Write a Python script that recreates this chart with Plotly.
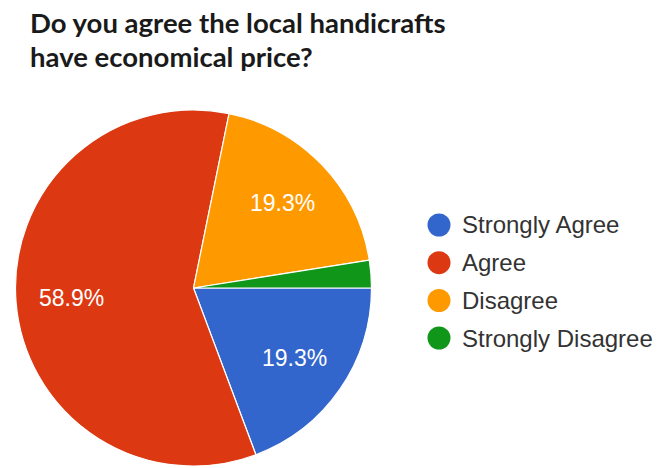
import math
import plotly.graph_objects as go

# Survey responses (share of respondents, %)
categories = ["Strongly Agree", "Agree", "Disagree", "Strongly Disagree"]
shares = [19.3, 58.9, 19.3, 2.5]
colors = ["#3366CC", "#DC3912", "#FF9900", "#109618"]
title_lines = ["Do you agree the local handicrafts", "have economical price?"]

W, H = 657, 468

# Pie geometry in pixels (centre and radius)
CX, CY, R = 193.5, 288.0, 178.0

fig = go.Figure()
fig.add_trace(go.Pie(
    labels=categories,
    values=shares,
    sort=False,
    direction="clockwise",
    rotation=90,
    marker=dict(colors=colors, line=dict(color="white", width=1.2)),
    textinfo="none",
    hoverinfo="label+percent",
    showlegend=False,
    domain=dict(x=[(CX - R) / W, (CX + R) / W], y=[(H - CY - R) / H, (H - CY + R) / H]),
))

annotations = []
shapes = []

# Percent labels at ~70% of the radius along each slice's mid-angle,
# shown only on slices large enough to hold them
total = sum(shares)
cum = 0.0
for v in shares:
    mid = (cum + v / 2) / total * 2 * math.pi  # clockwise from 3 o'clock
    cum += v
    if v / total < 0.05:
        continue
    px = CX + 0.69 * R * math.cos(mid)
    py = CY + 0.69 * R * math.sin(mid)
    annotations.append(dict(
        text=f"{v / total * 100:.1f}%", xref="paper", yref="paper",
        x=px / W, y=(H - py) / H, xanchor="center", yanchor="middle",
        showarrow=False,
        font=dict(family="Liberation Sans, Arial, sans-serif", size=23, color="white"),
    ))

# Legend: coloured dots with category names
row_y = [225, 262.7, 300.5, 338]
dot_r = 11.5
for name, col, yc in zip(categories, colors, row_y):
    shapes.append(dict(
        type="circle", xref="paper", yref="paper",
        x0=(439 - dot_r) / W, x1=(439 + dot_r) / W,
        y0=(H - yc - dot_r) / H, y1=(H - yc + dot_r) / H,
        fillcolor=col, line=dict(width=0),
    ))
    annotations.append(dict(
        text=name, xref="paper", yref="paper",
        x=460 / W, y=(H - yc) / H, xanchor="left", yanchor="middle",
        showarrow=False,
        font=dict(family="Liberation Sans, Arial, sans-serif", size=24, color="#333333"),
    ))

# Two-line bold title
for line, yc in zip(title_lines, [22, 56]):
    annotations.append(dict(
        text=line, xref="paper", yref="paper",
        x=28 / W, y=(H - yc) / H, xanchor="left", yanchor="middle",
        showarrow=False,
        font=dict(family="Lato, Open Sans, sans-serif", size=27.5, color="#1a1a1a", weight="bold"),
    ))

fig.update_layout(
    width=W, height=H,
    margin=dict(l=0, r=0, t=0, b=0),
    paper_bgcolor="white",
    plot_bgcolor="white",
    shapes=shapes,
    annotations=annotations,
)

fig.write_html("out.html")
